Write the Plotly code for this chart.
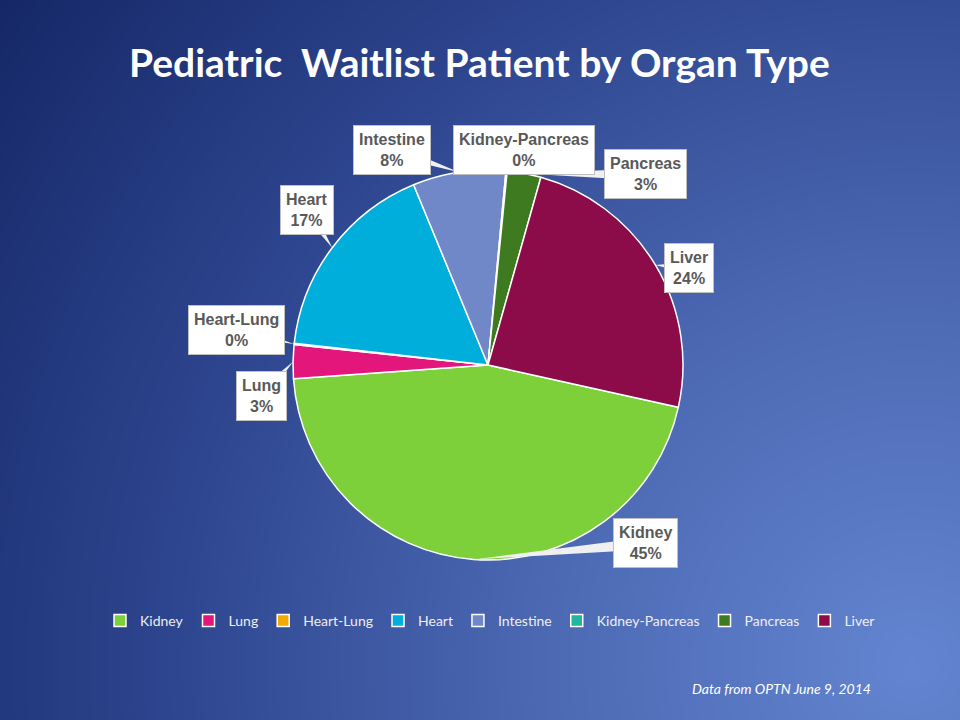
import math
import numpy as np
import plotly.graph_objects as go

# ---- data ----
organs = ["Kidney", "Lung", "Heart-Lung", "Heart", "Intestine", "Kidney-Pancreas", "Pancreas", "Liver"]
shares = [45.4, 2.8, 0.1, 17.0, 7.7, 0.1, 2.8, 24.1]
colors = ["#7ed03b", "#e3177b", "#f5a800", "#00aedc", "#7088c8", "#1fb59e", "#3e7a20", "#8c0c4a"]
title_text = "Pediatric  Waitlist Patient by Organ Type"
source_text = "Data from OPTN June 9, 2014"

W, H = 960, 720
# pie geometry (pixels)
CX, CY, R = 488, 365, 195
START_DEG = -12.5  # math angle where first slice begins, clockwise

# label box offsets from slice mid-edge (pixels)
label_offsets = {
    "Kidney": (172, -16), "Lung": (-32, 34), "Heart-Lung": (-58, -14), "Heart": (-25, -38),
    "Intestine": (-67, -22), "Kidney-Pancreas": (17, -21), "Pancreas": (121, 1), "Liver": (34, 3),
}

def px2paper(x, y):
    return x / W, 1 - y / H

fig = go.Figure()

# background gradient
gx = np.linspace(0, 1, 40)
gy = np.linspace(0, 1, 30)
GX, GY = np.meshgrid(gx, gy)
dist = np.sqrt(((GX - 0.95) * W) ** 2 + ((GY - 0.08) * H) ** 2)
dist = dist / dist.max()
fig.add_trace(go.Heatmap(
    x=gx, y=gy, z=dist, zsmooth="best", showscale=False, hoverinfo="skip",
    colorscale=[[0, "#6384d0"], [0.35, "#4a66b0"], [0.65, "#2e4690"], [1, "#152766"]],
    xaxis="x", yaxis="y", showlegend=False,
))

fig.add_trace(go.Pie(
    labels=organs, values=shares, sort=False, direction="clockwise",
    rotation=90 - START_DEG, textinfo="none", hoverinfo="label+percent",
    marker=dict(colors=colors, line=dict(color="white", width=1.5)),
    domain=dict(x=[(CX - R) / W, (CX + R) / W], y=[1 - (CY + R) / H, 1 - (CY - R) / H]),
))

total = sum(shares)
cum = 0.0
annotations = []
shapes = []
for name, v in zip(organs, shares):
    a0 = START_DEG - cum / total * 360
    cum += v
    a1 = START_DEG - cum / total * 360
    mid = math.radians((a0 + a1) / 2)
    ax = CX + R * math.cos(mid)
    ay = CY - R * math.sin(mid)
    dx, dy = label_offsets[name]
    bx, by = ax + dx, ay + dy
    pct = round(v / total * 100)
    # callout tail (wedge)
    L = math.hypot(dx, dy) or 1
    nx, ny = -dy / L, dx / L
    hw = 6
    p1 = px2paper(ax, ay)
    p2 = px2paper(bx + nx * hw, by + ny * hw)
    p3 = px2paper(bx - nx * hw, by - ny * hw)
    shapes.append(dict(
        type="path", xref="paper", yref="paper", layer="above",
        path=f"M {p1[0]} {p1[1]} L {p2[0]} {p2[1]} L {p3[0]} {p3[1]} Z",
        fillcolor="#f0f0f0", line=dict(width=0),
    ))
    bxp, byp = px2paper(bx, by)
    annotations.append(dict(
        x=bxp, y=byp, xref="paper", yref="paper", showarrow=False,
        text=f"<b>{name}<br>{pct}%</b>",
        font=dict(family="Liberation Sans, Arial", size=16, color="#595959"),
        bgcolor="white", bordercolor="#bfbfbf", borderwidth=1, borderpad=5,
        xanchor="center", yanchor="middle", align="center",
    ))

annotations.append(dict(
    x=479 / W, y=1 - 62 / H, xref="paper", yref="paper", showarrow=False,
    text=f"<b>{title_text}</b>", font=dict(family="Lato", size=39, color="white"),
    xanchor="center", yanchor="middle",
))
annotations.append(dict(
    x=873 / W, y=1 - 688 / H, xref="paper", yref="paper", showarrow=False,
    text=f"<i>{source_text}</i>", font=dict(family="Lato", size=14, color="white"),
    xanchor="right", yanchor="middle",
))

fig.update_layout(
    width=W, height=H, margin=dict(l=0, r=0, t=0, b=0),
    paper_bgcolor="#2a4286", plot_bgcolor="rgba(0,0,0,0)",
    xaxis=dict(domain=[0, 1], range=[0, 1], visible=False, fixedrange=True),
    yaxis=dict(domain=[0, 1], range=[0, 1], visible=False, fixedrange=True),
    showlegend=True,
    legend=dict(orientation="h", x=490 / W, xanchor="center", y=1 - 621 / H, yanchor="middle",
                font=dict(family="Lato", size=14, color="#eeeeee"), bgcolor="rgba(0,0,0,0)",
                itemwidth=30, traceorder="normal"),
    annotations=annotations, shapes=shapes,
)

fig.write_html("out.html", config={"displayModeBar": False},
               post_script="document.body.style.margin='0';document.body.style.padding='0';document.body.style.overflow='hidden';")
